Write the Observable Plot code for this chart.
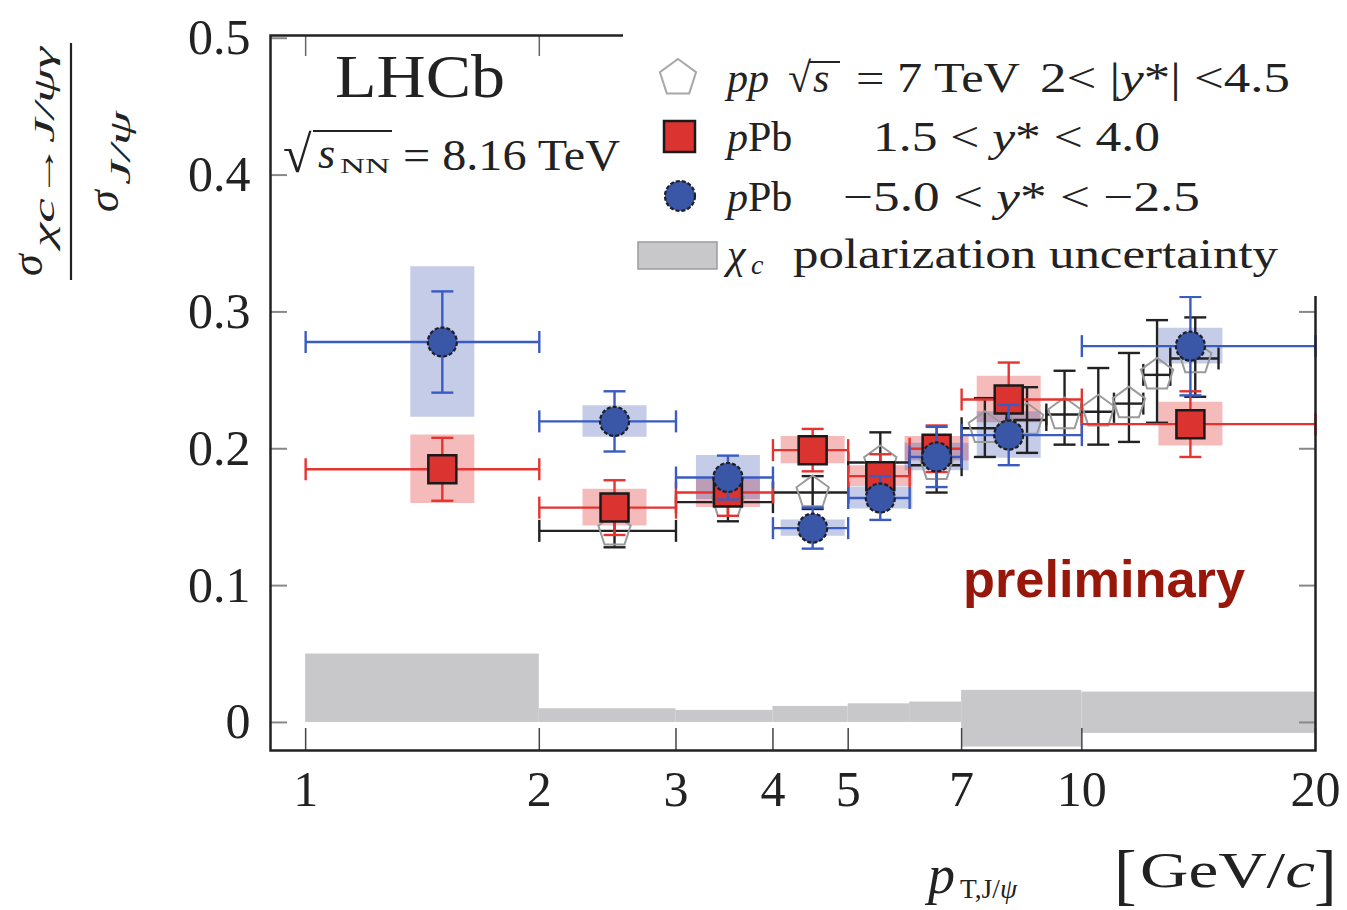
<!DOCTYPE html>
<html><head><meta charset="utf-8">
<script src="https://cdn.jsdelivr.net/npm/d3@7"></script>
<script src="https://cdn.jsdelivr.net/npm/@observablehq/plot@0.6"></script>
<style>
body{margin:0;background:#fff;}
#chart{position:relative;width:1347px;height:910px;}
</style>
</head><body><div id="chart"></div>
<script>
// ---------- data ----------
// pPb forward 1.5 < y* < 4.0 (red squares)
const fwdLo   = [1, 2, 3, 4, 5, 6, 7, 10];
const fwdHi   = [2, 3, 4, 5, 6, 7, 10, 20];
const fwdX    = [1.5, 2.5, 3.5, 4.5, 5.5, 6.5, 8.05, 13.8];
const fwdVal  = [0.185, 0.157, 0.168, 0.199, 0.180, 0.200, 0.236, 0.218];
const fwdStat = [0.023, 0.020, 0.017, 0.0155, 0.016, 0.017, 0.027, 0.024];
const fwdSyst = [0.025, 0.0135, 0.011, 0.010, 0.0075, 0.009, 0.017, 0.016];

// pPb backward -5.0 < y* < -2.5 (blue circles)
const bwdLo   = [1, 2, 3, 4, 5, 6, 7, 10];
const bwdHi   = [2, 3, 4, 5, 6, 7, 10, 20];
const bwdX    = [1.5, 2.5, 3.5, 4.5, 5.5, 6.5, 8.05, 13.8];
const bwdVal  = [0.278, 0.220, 0.179, 0.142, 0.164, 0.194, 0.210, 0.275];
const bwdStat = [0.037, 0.022, 0.016, 0.015, 0.016, 0.022, 0.022, 0.036];
const bwdSyst = [0.055, 0.0115, 0.016, 0.006, 0.008, 0.010, 0.017, 0.013];

// pp sqrt(s)=7 TeV, 2<|y*|<4.5 (open pentagons)
const ppLo    = [2, 3, 4, 5, 6, 7, 8, 9, 10, 11, 12, 13];
const ppHi    = [3, 4, 5, 6, 7, 8, 9, 10, 11, 12, 13, 15];
const ppX     = [2.5, 3.5, 4.5, 5.5, 6.5, 7.5, 8.5, 9.5, 10.5, 11.5, 12.5, 14];
const ppVal   = [0.140, 0.161, 0.168, 0.190, 0.188, 0.215, 0.221, 0.225, 0.227, 0.233, 0.254, 0.266];
const ppErrLo = [0.012, 0.014, 0.012, 0.021, 0.020, 0.021, 0.024, 0.022, 0.024, 0.028, 0.035, 0.028];
const ppErrHi = [0.012, 0.014, 0.012, 0.022, 0.020, 0.022, 0.024, 0.032, 0.032, 0.037, 0.040, 0.030];

// chi_c polarization uncertainty band
const polLo  = [1, 2, 3, 4, 5, 6, 7, 10];
const polHi  = [2, 3, 4, 5, 6, 7, 10, 20];
const polMin = [0, 0, 0, 0, 0, 0, -0.018, -0.008];
const polMax = [0.050, 0.010, 0.0088, 0.0117, 0.0136, 0.0149, 0.0234, 0.0222];

// axis ticks
const xTicks = [1, 2, 3, 4, 5, 7, 10, 20];
const yTicks = [0, 0.1, 0.2, 0.3, 0.4, 0.5];

// ---------- tables ----------
const fwd = fwdX.map((x, i) => ({x, lo: fwdLo[i], hi: fwdHi[i], v: fwdVal[i], s: fwdStat[i], sy: fwdSyst[i]}));
const bwd = bwdX.map((x, i) => ({x, lo: bwdLo[i], hi: bwdHi[i], v: bwdVal[i], s: bwdStat[i], sy: bwdSyst[i]}));
const pp  = ppX.map((x, i) => ({x, lo: ppLo[i], hi: ppHi[i], v: ppVal[i], el: ppErrLo[i], eh: ppErrHi[i]}));
const pol = polLo.map((lo, i) => ({lo, hi: polHi[i], min: polMin[i], max: polMax[i]}));

// ---------- symbols ----------
const rad = s => Math.sqrt(s / Math.PI);
const sqSym = {draw(c, s) { const r = rad(s); c.moveTo(-r, -r); c.lineTo(r, -r); c.lineTo(r, r); c.lineTo(-r, r); c.closePath(); }};
const pentSym = {draw(c, s) { const r = rad(s); for (let i = 0; i < 5; i++) { const a = -Math.PI / 2 + i * 2 * Math.PI / 5; const px = r * Math.cos(a), py = r * Math.sin(a); if (i) c.lineTo(px, py); else c.moveTo(px, py); } c.closePath(); }};
const vCap = {draw(c, s) { const r = rad(s); c.moveTo(0, -r); c.lineTo(0, r); }};
const hCap = {draw(c, s) { const r = rad(s); c.moveTo(-r, 0); c.lineTo(r, 0); }};

const RED = "#e5332f", REDF = "#db3330", BLUE = "#3a5cc2", BLUEF = "#3a56a6", BLK = "#222";
const serif = "'Liberation Serif','Times New Roman',serif";

function errMarks(data, color, lowFn, highFn) {
  return [
    Plot.ruleY(data, {y: "v", x1: "lo", x2: "hi", stroke: color, strokeWidth: 2.4}),
    Plot.dot(data, {x: "lo", y: "v", symbol: vCap, r: 11, fill: "none", stroke: color, strokeWidth: 2.4}),
    Plot.dot(data, {x: "hi", y: "v", symbol: vCap, r: 11, fill: "none", stroke: color, strokeWidth: 2.4}),
    Plot.ruleX(data, {x: "x", y1: lowFn, y2: highFn, stroke: color, strokeWidth: 2.4}),
    Plot.dot(data, {x: "x", y: lowFn, symbol: hCap, r: 11, fill: "none", stroke: color, strokeWidth: 2.4}),
    Plot.dot(data, {x: "x", y: highFn, symbol: hCap, r: 11, fill: "none", stroke: color, strokeWidth: 2.4})
  ];
}

const plot = Plot.plot({
  width: 1347, height: 910,
  marginLeft: 270, marginRight: 32, marginTop: 35, marginBottom: 160,
  style: {fontFamily: serif, fontSize: "50px", background: "white", overflow: "visible"},
  x: {type: "log", domain: [0.901, 20]},
  y: {domain: [-0.0205, 0.502]},
  marks: [
    Plot.rect(pol, {x1: "lo", x2: "hi", y1: "min", y2: "max", fill: "#c8c8ca"}),
    // systematic boxes
    Plot.ruleX(fwd, {x: "x", y1: d => d.v - d.sy, y2: d => d.v + d.sy, stroke: "#e03030", strokeOpacity: 0.33, strokeWidth: 64}),
    Plot.ruleX(bwd, {x: "x", y1: d => d.v - d.sy, y2: d => d.v + d.sy, stroke: "#3a55b0", strokeOpacity: 0.3, strokeWidth: 64}),
    // pp
    ...errMarks(pp, BLK, d => d.v - d.el, d => d.v + d.eh),
    Plot.dot(pp, {x: "x", y: "v", symbol: pentSym, r: 17, fill: "none", stroke: "#9a9a9a", strokeWidth: 2}),
    // pPb forward
    ...errMarks(fwd, RED, d => d.v - d.s, d => d.v + d.s),
    Plot.dot(fwd, {x: "x", y: "v", symbol: sqSym, r: 14, fill: REDF, stroke: "#1a1a1a", strokeWidth: 2.5}),
    // pPb backward
    ...errMarks(bwd, BLUE, d => d.v - d.s, d => d.v + d.s),
    Plot.dot(bwd, {x: "x", y: "v", r: 14.5, fill: BLUEF, stroke: "#1e1e26", strokeWidth: 2.2, strokeDasharray: "4,2"}),
    // axes
    Plot.axisX(xTicks, {anchor: "bottom", tickSize: 0, tickPadding: 20, tickFormat: d => String(d), label: null, fill: "#222"}),
    Plot.axisX(xTicks, {anchor: "bottom", tickSize: -22, fill: "none", label: null, stroke: "#444", strokeWidth: 1.5}),
    Plot.axisX(xTicks, {anchor: "top", tickSize: -20, fill: "none", label: null, stroke: "#666", strokeWidth: 1.5}),
    Plot.axisY(yTicks, {anchor: "left", tickSize: 0, tickPadding: 20, tickFormat: d => d === 0 ? "0" : d.toFixed(1), label: null, fill: "#222"}),
    Plot.axisY(yTicks, {anchor: "left", tickSize: -17, fill: "none", label: null, stroke: "#888", strokeWidth: 2}),
    Plot.axisY(yTicks, {anchor: "right", tickSize: -17, fill: "none", label: null, stroke: "#888", strokeWidth: 2}),
    Plot.frame({stroke: "#222", strokeWidth: 2.5})
  ]
});
document.getElementById("chart").appendChild(plot);

// ---------- overlay: legend, labels, annotations ----------
const svg = d3.select(plot);
const g = svg.append("g").attr("font-family", serif).attr("fill", "#222").attr("text-anchor", "start");
g.html(`
  <rect x="623" y="0" width="724" height="296" fill="white"/>
  <!-- legend markers -->
  <path d="${(() => { const r = 19, cx = 678, cy = 78; let p = ""; for (let i = 0; i < 5; i++) { const a = -Math.PI/2 + i*2*Math.PI/5; p += (i ? "L" : "M") + (cx + r*Math.cos(a)).toFixed(1) + "," + (cy + r*Math.sin(a)).toFixed(1); } return p + "Z"; })()}" fill="white" stroke="#a8a8a8" stroke-width="2"/>
  <rect x="664" y="121" width="31" height="31" fill="${REDF}" stroke="#1a1a1a" stroke-width="2.5"/>
  <circle cx="680" cy="196" r="15" fill="${BLUEF}" stroke="#1e1e26" stroke-width="2.2" stroke-dasharray="4,2"/>
  <rect x="638" y="242" width="79" height="27" fill="#c8c8ca" stroke="#9c9c9c" stroke-width="1.5"/>
  <!-- legend text -->
  <text x="727" y="92" font-size="42" font-style="italic">pp</text>
  <text x="788" y="92" font-size="42">√</text>
  <line x1="809" y1="62" x2="840" y2="62" stroke="#222" stroke-width="2"/>
  <text x="813" y="92" font-size="42" font-style="italic">s</text>
  <text x="856" y="92" font-size="42" textLength="164" lengthAdjust="spacingAndGlyphs">= 7 TeV</text>
  <text x="1040" y="92" font-size="42" textLength="250" lengthAdjust="spacingAndGlyphs">2&lt; |<tspan font-style="italic">y</tspan>*| &lt;4.5</text>
  <text x="727" y="151" font-size="42"><tspan font-style="italic">p</tspan>Pb</text>
  <text x="873" y="151" font-size="42" textLength="287" lengthAdjust="spacingAndGlyphs">1.5 &lt; <tspan font-style="italic">y</tspan>* &lt; 4.0</text>
  <text x="727" y="211" font-size="42"><tspan font-style="italic">p</tspan>Pb</text>
  <text x="843" y="211" font-size="42" textLength="357" lengthAdjust="spacingAndGlyphs">−5.0 &lt; <tspan font-style="italic">y</tspan>* &lt; −2.5</text>
  <text x="727" y="268" font-size="42" font-style="italic">χ</text>
  <text x="751" y="274" font-size="28" font-style="italic">c</text>
  <text x="793" y="268" font-size="42" textLength="485" lengthAdjust="spacingAndGlyphs">polarization uncertainty</text>
  <!-- LHCb -->
  <text x="335" y="97" font-size="62" textLength="170" lengthAdjust="spacingAndGlyphs">LHCb</text>
  <text x="283" y="172" font-size="52">√</text>
  <line x1="313" y1="131" x2="392" y2="131" stroke="#222" stroke-width="2"/>
  <text x="318" y="168" font-size="44" font-style="italic">s</text>
  <text x="340" y="173" font-size="22" textLength="50" lengthAdjust="spacingAndGlyphs">NN</text>
  <text x="403" y="170" font-size="44" textLength="217" lengthAdjust="spacingAndGlyphs">= 8.16 TeV</text>
  <!-- preliminary -->
  <text x="963" y="597" font-size="52" font-weight="bold" font-family="'Liberation Sans',Arial,sans-serif" fill="#98170b" textLength="282" lengthAdjust="spacingAndGlyphs">preliminary</text>
  <!-- x label -->
  <text x="928" y="893" font-size="54" font-style="italic">p</text>
  <text x="960" y="898" font-size="28" textLength="57" lengthAdjust="spacingAndGlyphs">T,J/<tspan font-style="italic">ψ</tspan></text>
  <text x="1114" y="897" font-size="68">[</text>
  <text x="1140" y="887" font-size="50" textLength="175" lengthAdjust="spacingAndGlyphs">GeV/<tspan font-style="italic">c</tspan></text>
  <text x="1314" y="897" font-size="68">]</text>
  <!-- y label -->
  <g transform="rotate(-90)">
    <text x="-276" y="42" font-size="44" font-style="italic">σ</text>
    <text x="-247" y="54" font-size="30" font-style="italic" textLength="200" lengthAdjust="spacingAndGlyphs">χc→J/ψγ</text>
    <line x1="-280" y1="71" x2="-43" y2="71" stroke="#222" stroke-width="2.2"/>
    <text x="-212" y="118" font-size="44" font-style="italic">σ</text>
    <text x="-185" y="130" font-size="30" font-style="italic" textLength="74" lengthAdjust="spacingAndGlyphs">J/ψ</text>
  </g>
`);
</script></body></html>
